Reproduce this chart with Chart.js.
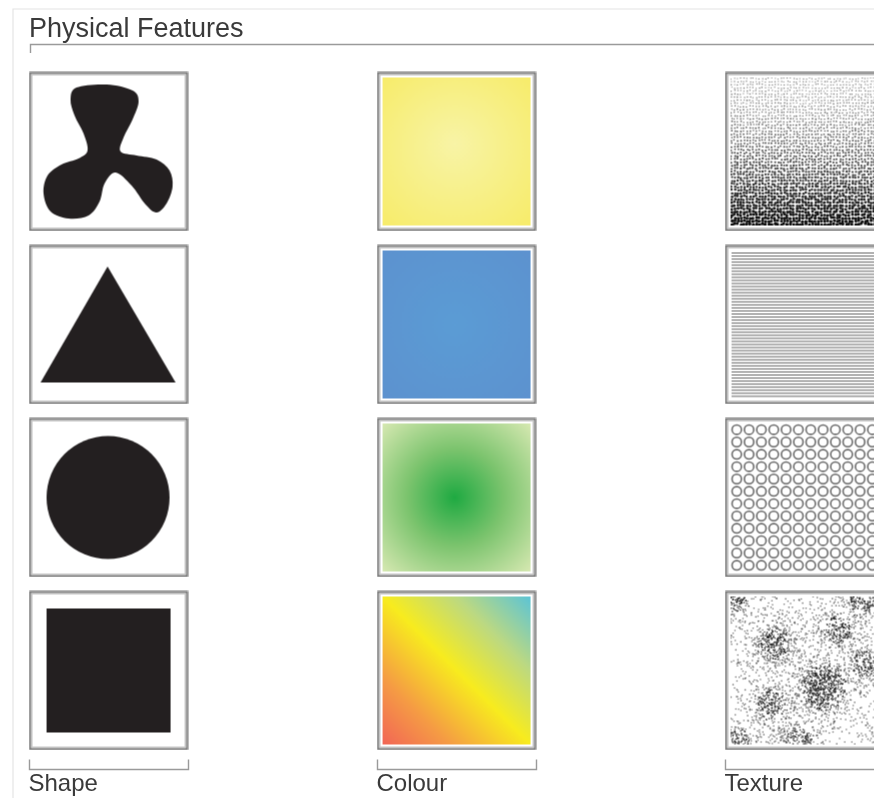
<!DOCTYPE html>
<html>
<head>
<meta charset="utf-8">
<script src="https://cdn.jsdelivr.net/npm/chart.js@4.4.0/dist/chart.umd.min.js"></script>
<style>
  html, body { margin: 0; padding: 0; background: #fff; }
  #wrap { width: 874px; height: 798px; position: relative; }
</style>
</head>
<body>
<div id="wrap"><canvas id="features"></canvas></div>
<script>
const chartTitle = 'Physical Features'
const columns = ['Shape', 'Colour', 'Texture']
const shapeFeatures = ['blob', 'triangle', 'circle', 'square']
const colourFeatures = ['yellow', 'blue', 'green', 'spectrum']
const textureFeatures = ['stipple', 'lines', 'rings', 'clusters']

;(function () {
  const TILE = 160
  const FONT = "'Liberation Sans', Arial, Helvetica, sans-serif"
  const INK = '#231f20'

  // small seeded generator so the textures look the same every run
  function seeded(seed) {
    return function () {
      seed |= 0; seed = seed + 0x6D2B79F5 | 0
      let t = Math.imul(seed ^ seed >>> 15, 1 | seed)
      t = t + Math.imul(t ^ t >>> 7, 61 | t) ^ t
      return ((t ^ t >>> 14) >>> 0) / 4294967296
    }
  }

  function frame(g) {
    g.fillStyle = '#fff'
    g.fillRect(0, 0, TILE, TILE)
    g.strokeStyle = '#7b7b7b'
    g.lineWidth = 2
    g.strokeRect(1.5, 1.5, TILE - 3, TILE - 3)
    g.strokeStyle = '#c8c8c8'
    g.lineWidth = 1
    g.strokeRect(3.5, 3.5, TILE - 7, TILE - 7)
  }

  function smoothBlob(g, pts) {
    const n = pts.length
    g.beginPath()
    g.moveTo(pts[0][0], pts[0][1])
    for (let i = 0; i < n; i++) {
      const p0 = pts[(i - 1 + n) % n], p1 = pts[i], p2 = pts[(i + 1) % n], p3 = pts[(i + 2) % n]
      g.bezierCurveTo(
        p1[0] + (p2[0] - p0[0]) / 6, p1[1] + (p2[1] - p0[1]) / 6,
        p2[0] - (p3[0] - p1[0]) / 6, p2[1] - (p3[1] - p1[1]) / 6,
        p2[0], p2[1])
    }
    g.closePath()
    g.fill()
  }

  const painters = {
    blob(g) {
      g.fillStyle = INK
      smoothBlob(g, [[48,16],[78,13],[104,19],[110,30],[104,48],[95,66],[92,80],[108,84],
        [128,88],[141,99],[144,115],[138,132],[128,141],[117,133],[103,114],[87,101],
        [76,112],[71,130],[60,144],[40,147],[22,140],[15,122],[19,104],[33,93],[50,87],
        [59,79],[55,62],[46,44],[42,28]])
    },
    triangle(g) {
      g.fillStyle = INK
      g.beginPath(); g.moveTo(79, 22); g.lineTo(147, 138); g.lineTo(12, 138); g.closePath(); g.fill()
    },
    circle(g) {
      g.fillStyle = INK
      g.beginPath(); g.arc(79.5, 80, 61.5, 0, Math.PI * 2); g.fill()
    },
    square(g) {
      g.fillStyle = INK
      g.fillRect(18, 18, 124, 124)
    },
    yellow(g) {
      const r = g.createRadialGradient(78, 72, 0, 80, 80, 105)
      r.addColorStop(0, '#f8f4a6'); r.addColorStop(1, '#f7ec6a')
      g.fillStyle = r; g.fillRect(6, 6, TILE - 12, TILE - 12)
    },
    blue(g) {
      const r = g.createRadialGradient(78, 80, 0, 80, 80, 105)
      r.addColorStop(0, '#5b9cd5'); r.addColorStop(1, '#5d92cf')
      g.fillStyle = r; g.fillRect(6, 6, TILE - 12, TILE - 12)
    },
    green(g) {
      const r = g.createRadialGradient(78, 80, 0, 80, 80, 108)
      r.addColorStop(0, '#1faa42'); r.addColorStop(0.45, '#7cc46e'); r.addColorStop(1, '#dcebb6')
      g.fillStyle = r; g.fillRect(6, 6, TILE - 12, TILE - 12)
    },
    spectrum(g) {
      const l = g.createLinearGradient(6, TILE - 6, TILE - 6, 6)
      l.addColorStop(0, '#f26656'); l.addColorStop(0.22, '#f59a45'); l.addColorStop(0.5, '#f8ec1e')
      l.addColorStop(0.75, '#bcd982'); l.addColorStop(1, '#5cc4d6')
      g.fillStyle = l; g.fillRect(6, 6, TILE - 12, TILE - 12)
    },
    stipple(g) {
      const rnd = seeded(7)
      g.save(); g.beginPath(); g.rect(6, 6, TILE - 12, TILE - 12); g.clip()
      for (let y = 7; y < TILE - 6; y += 3.1) {
        const t = (y - 6) / (TILE - 12)
        for (let x = 7; x < TILE - 6; x += 3.1) {
          const rad = 0.6 + 0.9 * Math.pow(t, 1.6) + rnd() * 0.2
          const shade = Math.round(140 - 130 * Math.pow(t, 1.3))
          g.fillStyle = `rgb(${shade},${shade},${shade})`
          g.beginPath()
          g.arc(x + (rnd() - 0.5) * 1.4, y + (rnd() - 0.5) * 1.4, rad, 0, Math.PI * 2)
          g.fill()
        }
      }
      g.restore()
    },
    lines(g) {
      g.strokeStyle = '#666'; g.lineWidth = 1
      for (let y = 8.5; y < TILE - 6; y += 3.05) {
        g.beginPath(); g.moveTo(7, y); g.lineTo(TILE - 7, y); g.stroke()
      }
    },
    rings(g) {
      g.strokeStyle = '#6c6c6c'; g.lineWidth = 1.6
      const pitch = (TILE - 12) / 12
      for (let r = 0; r < 12; r++) {
        for (let c = 0; c < 12; c++) {
          g.beginPath()
          g.arc(6 + pitch * (c + 0.5), 6 + pitch * (r + 0.5), pitch * 0.38, 0, Math.PI * 2)
          g.stroke()
        }
      }
    },
    clusters(g) {
      const rnd = seeded(21)
      const spots = [[49,54,1,12],[112,39,0.8,11],[99,97,1.5,14],[47,114,0.9,11],[9,9,0.9,10],
        [142,74,0.8,11],[74,150,0.8,11],[14,151,0.8,10],[139,9,0.8,11]]
      g.save(); g.beginPath(); g.rect(6, 6, TILE - 12, TILE - 12); g.clip()
      for (let i = 0; i < 10000; i++) {
        const x = 6 + rnd() * (TILE - 12), y = 6 + rnd() * (TILE - 12)
        let d = 0.11
        spots.forEach(([cx, cy, w, s]) => {
          const dd = (x - cx) * (x - cx) + (y - cy) * (y - cy)
          d += 0.75 * w * Math.exp(-dd / (2 * s * s))
        })
        if (rnd() > d) continue
        g.fillStyle = d > 0.4 ? 'rgba(25,25,25,0.8)' : 'rgba(75,75,75,0.75)'
        g.beginPath(); g.arc(x, y, 0.8, 0, Math.PI * 2); g.fill()
      }
      g.restore()
    }
  }

  function makeTile(kind) {
    const c = document.createElement('canvas')
    c.width = c.height = TILE
    const g = c.getContext('2d')
    frame(g)
    painters[kind](g)
    return c
  }

  const groups = [shapeFeatures, colourFeatures, textureFeatures]
  const datasets = groups.map((features, col) => ({
    label: columns[col],
    data: features.map((f, row) => ({ x: col, y: row })),
    pointStyle: features.map(makeTile),
    pointRadius: 5,
    clip: false
  }))

  const chrome = {
    id: 'chrome',
    beforeDatasetsDraw(chart) {
      const ctx = chart.ctx
      const xs = chart.scales.x, ys = chart.scales.y
      const lastRow = ys.getPixelForValue(shapeFeatures.length - 1) + TILE / 2
      ctx.save()
      // faint page edges
      ctx.strokeStyle = '#e4e4e4'; ctx.lineWidth = 1.2
      ctx.beginPath(); ctx.moveTo(13, 798); ctx.lineTo(13, 9); ctx.lineTo(874, 9); ctx.stroke()
      // title and its bracket
      ctx.fillStyle = '#3a3a3a'
      ctx.font = `27px ${FONT}`
      ctx.textBaseline = 'alphabetic'; ctx.textAlign = 'left'
      ctx.fillText(chartTitle, 29, 37)
      ctx.strokeStyle = '#9a9a9a'; ctx.lineWidth = 1.4
      ctx.beginPath(); ctx.moveTo(30.5, 53); ctx.lineTo(30.5, 44.5); ctx.lineTo(874, 44.5); ctx.stroke()
      // column brackets and names
      ctx.font = `24px ${FONT}`
      columns.forEach((name, i) => {
        const left = Math.round(xs.getPixelForValue(i) - TILE / 2) + 0.5
        const y0 = lastRow + 9
        ctx.beginPath()
        ctx.moveTo(left, y0); ctx.lineTo(left, y0 + 10)
        ctx.lineTo(left + TILE - 1, y0 + 10); ctx.lineTo(left + TILE - 1, y0)
        ctx.stroke()
        ctx.fillText(name, left - 1, y0 + 32)
      })
      ctx.restore()
    }
  }

  new Chart(document.getElementById('features'), {
    type: 'scatter',
    data: { datasets },
    options: {
      responsive: true,
      maintainAspectRatio: false,
      animation: false,
      events: [],
      layout: { padding: 0, autoPadding: false },
      plugins: { legend: { display: false }, tooltip: { enabled: false }, title: { display: false } },
      scales: {
        x: { type: 'linear', display: false, bounds: 'data', min: -0.3118, max: 2.1997 },
        y: { type: 'linear', display: false, bounds: 'data', reverse: true, min: -0.8757, max: 3.737 }
      }
    },
    plugins: [chrome]
  })
}())
</script>
</body>
</html>
